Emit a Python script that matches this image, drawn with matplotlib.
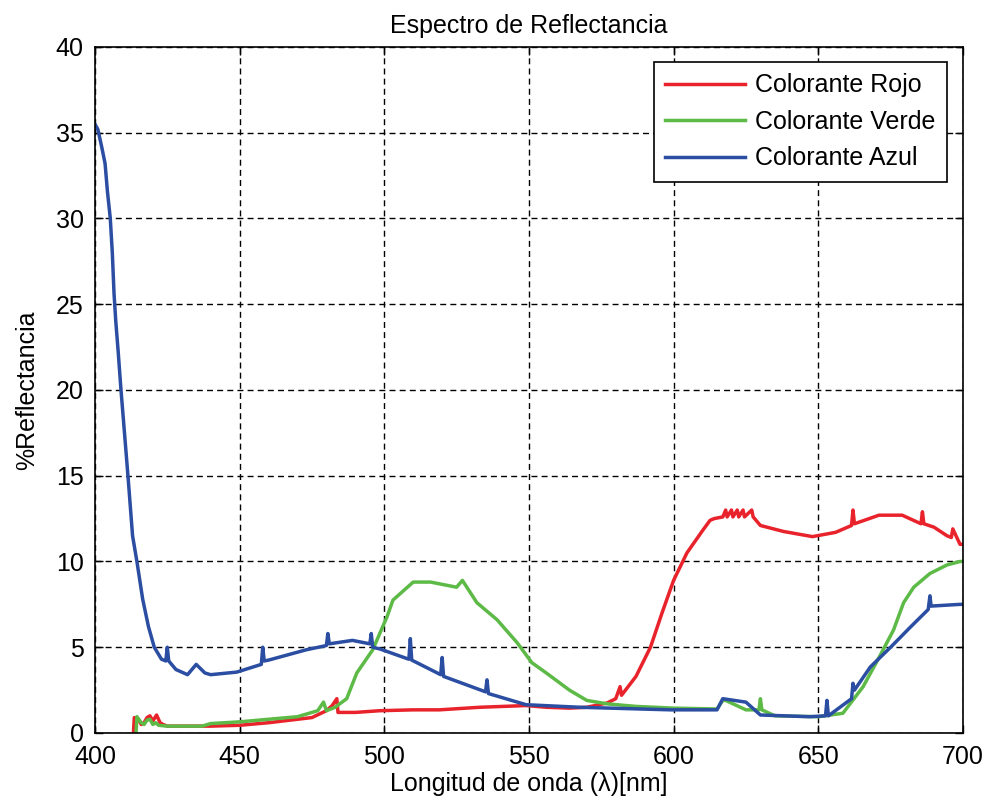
import matplotlib
matplotlib.use("Agg")
import matplotlib.pyplot as plt

plt.rcParams['font.family'] = ['Liberation Sans', 'DejaVu Sans']

# Colorante Rojo
rojo_x = [413.3, 413.6, 415, 416, 417, 418, 419, 420, 421.3, 422.5, 423.5, 425, 430, 440, 450, 460, 470, 475,
          480, 482, 483.6, 484, 490, 498.5, 510, 519, 533, 549, 556, 564, 570, 577,
          580, 581.5, 582, 587, 592, 596, 600, 604.6, 610, 612.6, 614, 617,
          618, 618.5, 620, 620.5, 622, 622.5, 624, 624.5, 627, 627.5, 630, 638, 648, 656,
          661.5, 662, 662.5, 671, 679, 685.5, 686, 686.5, 690, 694.5, 696, 696.5, 699, 700]
rojo_y = [0.0, 0.9, 0.8, 0.5, 0.6, 0.9, 1.0, 0.7, 1.05, 0.6, 0.5, 0.4, 0.4, 0.4, 0.45, 0.6, 0.8, 0.9,
          1.3, 1.6, 2.0, 1.2, 1.2, 1.3, 1.35, 1.35, 1.5, 1.6, 1.5, 1.45, 1.5, 1.75,
          2.0, 2.7, 2.2, 3.3, 5.0, 7.0, 8.9, 10.5, 11.8, 12.4, 12.5, 12.6,
          13.0, 12.6, 13.0, 12.6, 13.0, 12.6, 13.0, 12.6, 13.0, 12.6, 12.1, 11.75, 11.45, 11.7,
          12.1, 13.0, 12.2, 12.7, 12.7, 12.2, 12.9, 12.2, 12.0, 11.5, 11.4, 11.9, 11.0, 11.0]

# Colorante Verde
verde_x = [414.2, 414.5, 416, 417, 418, 419, 420, 421, 422, 425, 437, 440, 450, 460, 470,
           477, 479, 480, 483, 487, 490.5, 496, 501, 503, 508, 510, 516, 525, 527, 532, 539,
           546, 551, 556, 564, 570, 577, 587, 600, 615, 617, 618, 625, 629.5, 630, 630.5,
           635, 650, 658.5, 665.5, 671, 676, 679.5, 683, 688.6, 694.5, 699, 700]
verde_y = [0.0, 0.95, 0.6, 0.5, 0.75, 0.8, 0.5, 0.6, 0.45, 0.4, 0.4, 0.55, 0.65, 0.8, 0.95,
           1.3, 1.8, 1.3, 1.5, 2.0, 3.5, 4.85, 6.8, 7.75, 8.5, 8.8, 8.8, 8.5, 8.9, 7.6, 6.6,
           5.25, 4.1, 3.5, 2.5, 1.9, 1.7, 1.55, 1.45, 1.4, 1.9, 1.9, 1.35, 1.35, 2.0, 1.35,
           1.0, 0.95, 1.15, 2.7, 4.4, 6.0, 7.6, 8.5, 9.3, 9.8, 10.0, 10.0]

# Colorante Azul
azul_x = [400, 401, 402.3, 403.5, 404.3, 405.3, 406, 406.6, 407.2, 408, 409, 410.3, 411.5, 413,
          414.5, 416.5, 418.5, 420.5, 423, 424.5, 425,
          425.5, 428, 432, 435, 438, 440, 449, 457.5, 458, 458.5, 460, 473, 480, 480.5, 481,
          489, 495, 495.5, 496, 498.5, 508.5, 509, 509.5, 519.5, 520, 520.5, 535, 535.5, 536,
          549, 567.6, 599, 615, 617, 625, 630, 647, 652.5, 653, 653.5, 661.5, 662, 662.5,
          668, 675, 682, 688, 688.6, 689, 699, 700]
azul_y = [35.5, 35.2, 34.2, 33.2, 31.6, 30.0, 28.0, 25.6, 24.0, 22.3, 20.0, 17.3, 14.8, 11.5,
          10.0, 7.8, 6.2, 5.0, 4.3, 4.2, 5.0,
          4.2, 3.7, 3.4, 4.0, 3.5, 3.4, 3.55, 4.0, 5.0, 4.2, 4.25, 4.85, 5.1, 5.8, 5.2,
          5.4, 5.2, 5.8, 5.0, 4.9, 4.3, 5.5, 4.25, 3.4, 4.4, 3.3, 2.4, 3.1, 2.3,
          1.65, 1.5, 1.35, 1.35, 2.0, 1.8, 1.05, 0.95, 1.0, 1.9, 1.0, 2.0, 2.9, 2.5,
          3.85, 5.0, 6.2, 7.2, 8.0, 7.4, 7.5, 7.5]

fig = plt.figure(figsize=(9.86, 8.07), dpi=100)
ax = fig.add_axes([0.0963, 0.0917, 0.8803, 0.8501])

ax.plot(rojo_x, rojo_y, color='#e8232b', lw=2.5, label='Colorante Rojo')
ax.plot(verde_x, verde_y, color='#5dba47', lw=2.5, label='Colorante Verde')
ax.plot(azul_x, azul_y, color='#2b4ea2', lw=2.5, label='Colorante Azul')

ax.set_xlim(400, 700)
ax.set_ylim(0, 40)
ax.set_xticks(range(400, 701, 50))
ax.set_yticks(range(0, 41, 5))
ax.grid(True, color='black', linestyle=(0, (4.3, 3)), linewidth=1.0)
ax.tick_params(direction='in', top=True, right=True, labelsize=18, length=6, width=1)
ax.tick_params(axis='x', pad=9)
ax.tick_params(axis='y', pad=8)
for s in ax.spines.values():
    s.set_linewidth(1.2)

ax.set_title('Espectro de Reflectancia', fontsize=18, pad=10)
ax.set_xlabel('Longitud de onda (λ)[nm]', fontsize=18, labelpad=2)
ax.set_ylabel('%Reflectancia', fontsize=18, labelpad=12)

leg = ax.legend(loc='upper right', fontsize=18, fancybox=False, framealpha=1,
                edgecolor='black', handlelength=3.2, handletextpad=0.4,
                borderpad=0.45, borderaxespad=0,
                bbox_to_anchor=(0.9816, 0.978))
leg.get_frame().set_linewidth(1.2)

fig.savefig('out.png', dpi=100)
